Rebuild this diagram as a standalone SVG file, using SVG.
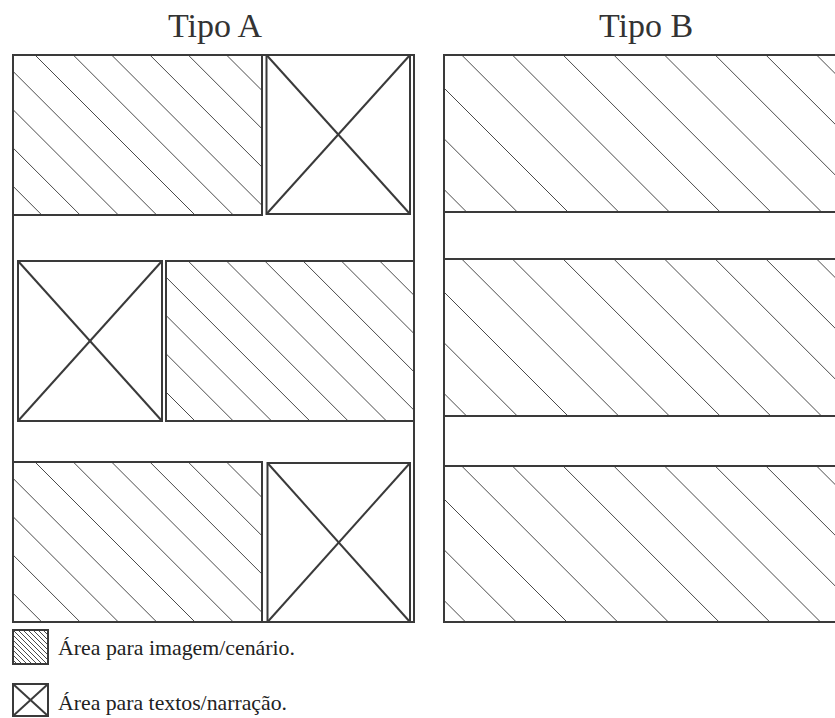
<svg xmlns="http://www.w3.org/2000/svg" width="835" height="718" viewBox="0 0 835 718">
  <style>
    .frame { fill: none; stroke: #3a3a3a; stroke-width: 2; }
    .box { fill: none; stroke: #3a3a3a; stroke-width: 2; }
    .xbox { fill: #fff; stroke: #3a3a3a; stroke-width: 2; }
    .xline { stroke: #3a3a3a; stroke-width: 2; }
    .hl { fill: none; stroke: #4a4a4a; stroke-width: 1; }
    .serif { font-family: Liberation Serif, Tinos, Times New Roman, Times, Nimbus Roman, FreeSerif, Noto Serif, DejaVu Serif, serif; }
    .title { font-size: 34px; fill: #333; text-anchor: middle; }
    .legend { font-size: 21.5px; fill: #222; }
  </style>
  <defs>
    <path id="hatchA" d="M-118.2,0 l162,162 M-79.9,0 l162,162 M-41.6,0 l162,162 M-3.3,0 l162,162 M35,0 l162,162 M73.3,0 l162,162 M111.6,0 l162,162 M149.9,0 l162,162 M188.2,0 l162,162 M226.5,0 l162,162 M264.8,0 l162,162 M303.1,0 l162,162 M341.4,0 l162,162 M379.7,0 l162,162"/>
    <path id="hatchB" d="M258.9,0 l160,160 M309.6,0 l160,160 M360.3,0 l160,160 M411,0 l160,160 M461.7,0 l160,160 M512.4,0 l160,160 M563.1,0 l160,160 M613.8,0 l160,160 M664.5,0 l160,160 M715.2,0 l160,160 M765.9,0 l160,160 M816.6,0 l160,160"/>
    <clipPath id="cA1"><rect x="13" y="55" width="249" height="160"/></clipPath>
    <clipPath id="cA2"><rect x="166" y="261" width="248" height="160"/></clipPath>
    <clipPath id="cA3"><rect x="13" y="462" width="249" height="160"/></clipPath>
    <clipPath id="cB1"><rect x="444" y="55" width="400" height="157"/></clipPath>
    <clipPath id="cB2"><rect x="444" y="259" width="400" height="157"/></clipPath>
    <clipPath id="cB3"><rect x="444" y="466" width="400" height="156"/></clipPath>
    <clipPath id="cL"><rect x="13" y="630" width="35" height="34"/></clipPath>
  </defs>
  <rect width="835" height="718" fill="#fff"/>

  <g id="titles" class="serif">
    <text class="title" x="215" y="37">Tipo A</text>
    <text class="title" x="646" y="37">Tipo B</text>
  </g>

  <g id="tipo-a">
    <rect class="frame" x="13" y="55" width="401" height="567"/>
    <g id="a-img-1">
      <g clip-path="url(#cA1)"><use href="#hatchA" class="hl" transform="translate(0,55)"/></g>
      <rect class="box" x="13" y="55" width="249" height="160"/>
    </g>
    <g id="a-txt-1">
      <rect class="xbox" x="266.5" y="55" width="143.5" height="159"/>
      <line class="xline" x1="266.5" y1="55" x2="410" y2="214"/>
      <line class="xline" x1="410" y1="55" x2="266.5" y2="214"/>
    </g>
    <g id="a-txt-2">
      <rect class="xbox" x="18" y="261" width="144" height="160"/>
      <line class="xline" x1="18" y1="261" x2="162" y2="421"/>
      <line class="xline" x1="162" y1="261" x2="18" y2="421"/>
    </g>
    <g id="a-img-2">
      <g clip-path="url(#cA2)"><use href="#hatchA" class="hl" transform="translate(0,261)"/></g>
      <rect class="box" x="166" y="261" width="248" height="160"/>
    </g>
    <g id="a-img-3">
      <g clip-path="url(#cA3)"><use href="#hatchA" class="hl" transform="translate(0,462)"/></g>
      <rect class="box" x="13" y="462" width="249" height="160"/>
    </g>
    <g id="a-txt-3">
      <rect class="xbox" x="267.5" y="463" width="142.5" height="159"/>
      <line class="xline" x1="267.5" y1="463" x2="410" y2="622"/>
      <line class="xline" x1="410" y1="463" x2="267.5" y2="622"/>
    </g>
  </g>

  <g id="tipo-b">
    <line class="frame" x1="444" y1="55" x2="444" y2="622"/>
    <g id="b-img-1">
      <g clip-path="url(#cB1)"><use href="#hatchB" class="hl" transform="translate(0,55)"/></g>
      <rect class="box" x="444" y="55" width="400" height="157"/>
    </g>
    <g id="b-img-2">
      <g clip-path="url(#cB2)"><use href="#hatchB" class="hl" transform="translate(0,259)"/></g>
      <rect class="box" x="444" y="259" width="400" height="157"/>
    </g>
    <g id="b-img-3">
      <g clip-path="url(#cB3)"><use href="#hatchB" class="hl" transform="translate(0,466)"/></g>
      <rect class="box" x="444" y="466" width="400" height="156"/>
    </g>
  </g>

  <g id="legend">
    <g id="legend-img">
      <g clip-path="url(#cL)">
        <path class="hl" d="M-22,630 l40,40 M-17,630 l40,40 M-12,630 l40,40 M-7,630 l40,40 M-2,630 l40,40 M3,630 l40,40 M8,630 l40,40 M13,630 l40,40 M18,630 l40,40 M23,630 l40,40 M28,630 l40,40 M33,630 l40,40 M38,630 l40,40 M43,630 l40,40"/>
      </g>
      <rect class="box" x="13" y="630" width="35" height="34"/>
      <text class="legend serif" x="58" y="655" textLength="237" lengthAdjust="spacingAndGlyphs">Área para imagem/cenário.</text>
    </g>
    <g id="legend-txt">
      <rect class="xbox" x="13" y="684" width="35" height="32"/>
      <line class="xline" x1="13" y1="684" x2="48" y2="716"/>
      <line class="xline" x1="48" y1="684" x2="13" y2="716"/>
      <text class="legend serif" x="58" y="710" textLength="229" lengthAdjust="spacingAndGlyphs">Área para textos/narração.</text>
    </g>
  </g>
</svg>
